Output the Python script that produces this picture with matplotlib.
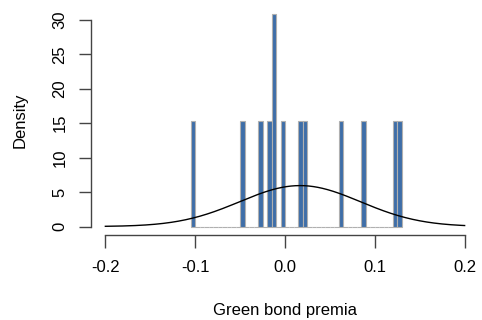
import numpy as np
import matplotlib.pyplot as plt

premia = [-0.1025, -0.0475, -0.0275, -0.0175, -0.0125, -0.0125, -0.0025,
          0.0175, 0.0225, 0.0625, 0.0875, 0.1225, 0.1275]
bin_width = 0.005
x_ticks = [-0.2, -0.1, 0.0, 0.1, 0.2]
x_tick_labels = ["-0.2", "-0.1", "0.0", "0.1", "0.2"]
y_ticks = [0, 5, 10, 15, 20, 25, 30]

plt.rcParams['font.family'] = ['Liberation Sans', 'DejaVu Sans']

fig = plt.figure(figsize=(4.82, 3.2), dpi=100)
ax = fig.add_axes([91 / 482, 85 / 320, 388 / 482, 229 / 320])

data = np.array(premia)
edges = np.arange(-0.105, 0.1301, bin_width)
ax.hist(data, bins=edges, density=True, color='#3e6ea8', edgecolor='#b0b0b0',
        linewidth=0.8)

# fitted normal curve over the whole x range
mu, sd = data.mean(), data.std(ddof=1)
xs = np.linspace(-0.2, 0.2, 400)
ax.plot(xs, np.exp(-0.5 * ((xs - mu) / sd) ** 2) / (sd * np.sqrt(2 * np.pi)),
        color='black', linewidth=1)

ax.set_xlim(-0.216, 0.216)
ax.set_ylim(-1.23, 32.0)

for s in ['top', 'right']:
    ax.spines[s].set_visible(False)
ax.spines['left'].set_bounds(0, 30)
ax.spines['bottom'].set_bounds(-0.2, 0.2)
for s in ['left', 'bottom']:
    ax.spines[s].set_color('#444444')
    ax.spines[s].set_linewidth(1)

ax.set_xticks(x_ticks)
ax.set_xticklabels(x_tick_labels)
ax.set_yticks(y_ticks)
ax.set_yticklabels([str(v) for v in y_ticks], rotation=90, va='center')
ax.tick_params(axis='both', length=9, width=1, color='#444444', labelsize=12,
               labelcolor='black')
ax.tick_params(axis='x', pad=9)
ax.tick_params(axis='y', pad=8)

ax.set_xlabel("Green bond premia", fontsize=12, labelpad=20)
ax.set_ylabel("Density", fontsize=12, labelpad=18)

fig.savefig("out.png", dpi=100)
